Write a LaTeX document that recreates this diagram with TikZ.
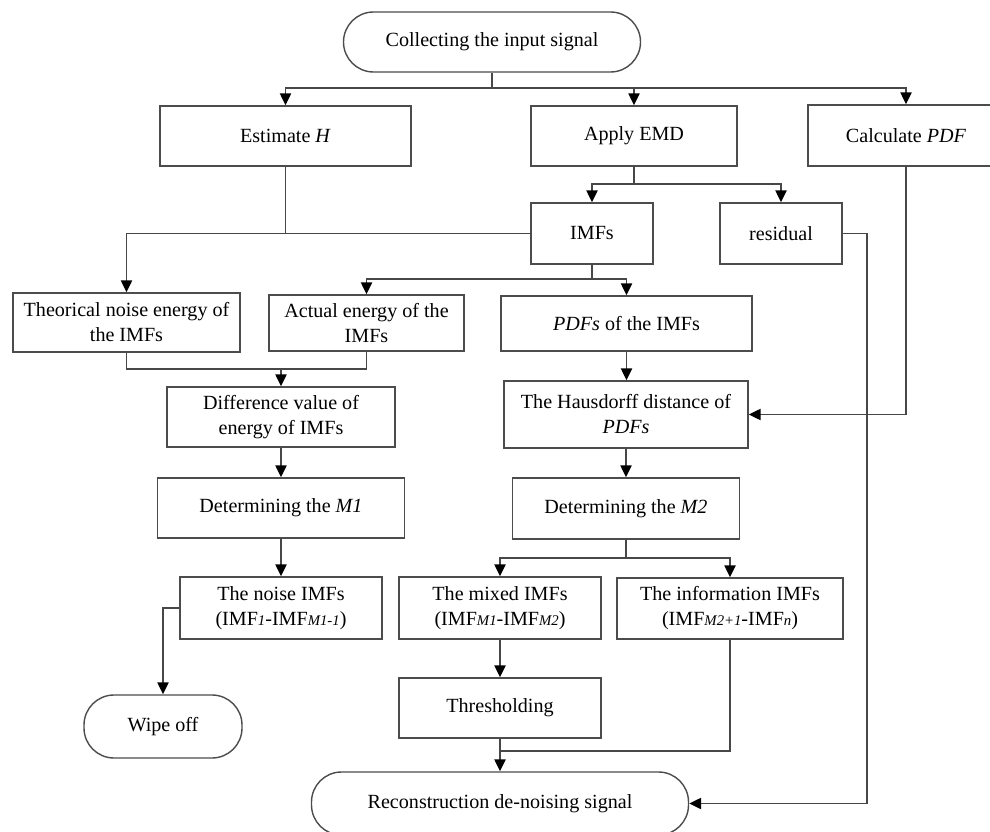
\documentclass[tikz,border=0pt]{standalone}
\usepackage{fontspec}
\setmainfont{Liberation Serif}
\usetikzlibrary{arrows.meta}
\newcommand{\imfsub}[1]{{\fontsize{10.5}{12}\selectfont\itshape #1}}

\begin{document}
\begin{tikzpicture}[x=0.025cm, y=-0.025cm,
  font=\fontsize{14.3}{17.8}\selectfont,
  sz/.style 2 args={minimum width=#1*0.025cm, minimum height=#2*0.025cm},
  box/.style={draw=black!70, line width=1pt, align=center, inner sep=0pt},
  term/.style={box, rounded corners=0.75cm},
  flow/.style={draw=black!72, line width=1.2pt, -{Triangle[length=0.3cm,width=0.28cm,fill=black,color=black]}},
  link/.style={draw=black!72, line width=1.2pt}]
\useasboundingbox (0,0) rectangle (990,832);
\clip (0,0) rectangle (990,832);

% boxes
\node[term, sz={297}{60}] (start) at (492,42) {Collecting the input signal};
\node[box, sz={251}{60}] (esth) at (285.5,136) {Estimate \textit{H}};
\node[box, sz={206}{60}] (emd) at (634,136) {Apply EMD};
\node[box, sz={196}{61}] (pdf) at (906,135.5) {Calculate \textit{PDF}};
\node[box, sz={122}{61}] (imfs) at (592,233.5) {IMFs};
\node[box, sz={122}{61}] (resid) at (781,233.5) {residual};
\node[box, sz={227}{59}] (theo) at (126.5,322.5) {Theorical noise energy of\\the IMFs};
\node[box, sz={195}{56}] (actual) at (366.5,323) {Actual energy of the\\IMFs};
\node[box, sz={251}{55}] (pdfs) at (626.5,323.5) {\textit{PDFs} of the IMFs};
\node[box, sz={228}{60}] (diff) at (281,417) {Difference value of\\energy of IMFs};
\node[box, sz={244}{67}] (haus) at (626,414.5) {The Hausdorff distance of\\\textit{PDFs}};
\node[box, sz={247}{60}] (detma) at (281,508) {Determining the \textit{M1}};
\node[box, sz={227}{61}] (detmb) at (626,508.5) {Determining the \textit{M2}};
\node[box, sz={202}{62}] (noise) at (281,608) {The noise IMFs\\(IMF\imfsub{1}-IMF\imfsub{M1-1})};
\node[box, sz={202}{62}] (mixed) at (500,608) {The mixed IMFs\\(IMF\imfsub{M1}-IMF\imfsub{M2})};
\node[box, sz={226}{61}] (info) at (730,608.5) {The information IMFs\\(IMF\imfsub{M2+1}-IMF\imfsub{n})};
\node[box, sz={202}{60}] (thresh) at (500,708) {Thresholding};
\node[term, sz={158}{63}] (wipe) at (163,726.5) {Wipe off};
\node[term, sz={377}{63}] (recon) at (500,803.5) {Reconstruction de-noising signal};

% junctions
\coordinate (ja) at (492,88);
\coordinate (jb) at (634,184);
\coordinate (jd) at (592,279);
\coordinate (je) at (281,369);
\coordinate (jf) at (626,558);
\coordinate (jg) at (500,751);
\coordinate (jh) at (867,233.5);

% connectors
\draw[link] (start) -- (ja);
\draw[flow] (ja) -| (esth);
\draw[flow] (ja) -| (emd);
\draw[flow] (ja) -| (pdf);
\draw[link] (emd) -- (jb);
\draw[flow] (jb) -| (imfs);
\draw[flow] (jb) -| (resid);
\draw[link] (esth.south) -- (esth.south |- imfs.west);
\draw[flow] (imfs.west) -| (theo);
\draw[link] (imfs) -- (jd);
\draw[flow] (jd) -| (actual);
\draw[flow] (jd) -| (pdfs);
\draw[link] (theo.south) |- (je) -| (actual.south);
\draw[flow] (je) -- (diff);
\draw[flow] (pdfs.south) -- (pdfs.south |- haus.north);
\draw[flow] (pdf.south) |- (haus.east);
\draw[flow] (diff) -- (detma);
\draw[flow] (haus) -- (detmb);
\draw[flow] (detma) -- (noise);
\draw[link] (detmb) -- (jf);
\draw[flow] (jf) -| (mixed);
\draw[flow] (jf) -| (info);
\draw[flow] (noise.west) -| (wipe);
\draw[flow] (mixed) -- (thresh);
\draw[flow] (thresh) -- (recon);
\draw[link] (info.south) |- (jg);
\draw[flow] (resid.east) -- (jh) |- (recon.east);
\end{tikzpicture}
\end{document}
